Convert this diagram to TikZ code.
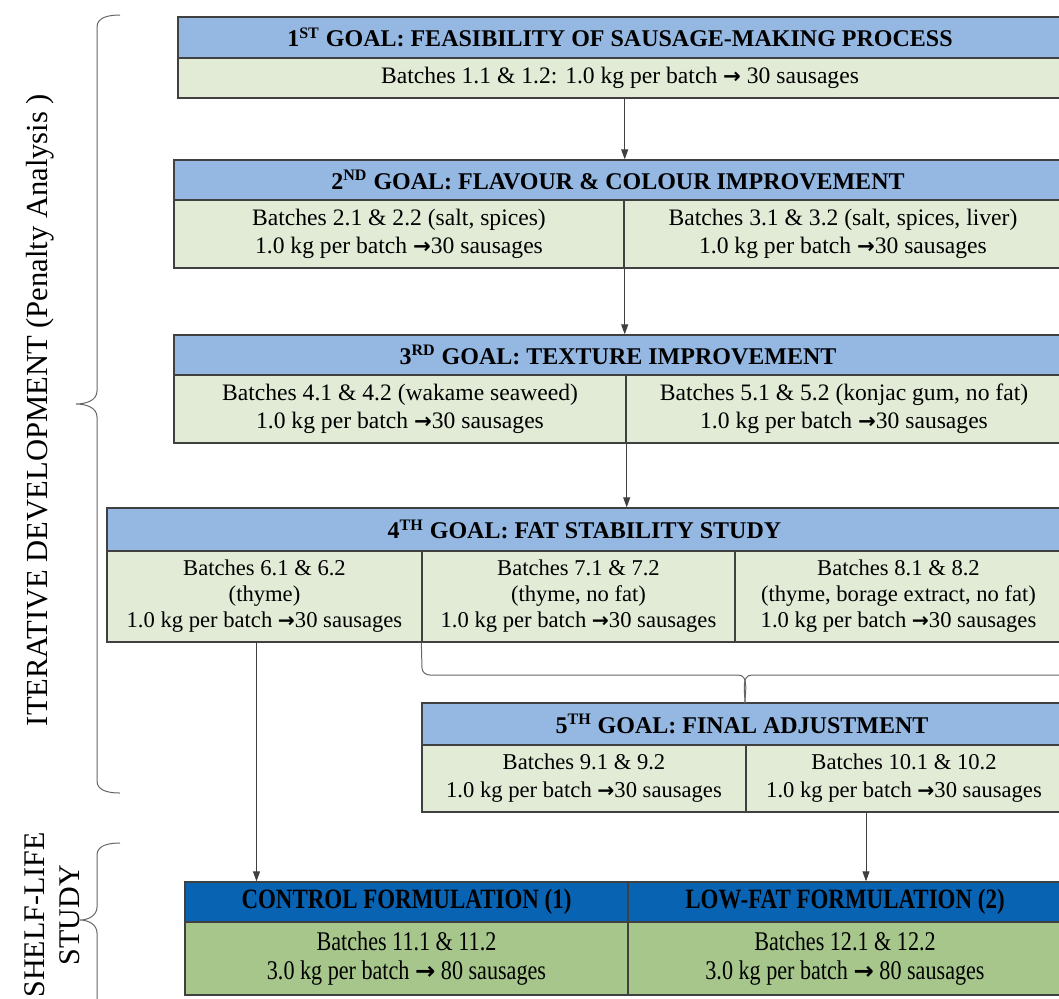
\documentclass[tikz,border=0pt]{standalone}
\usepackage{fontspec}
\setmainfont{Liberation Serif}
\newfontfamily\narrowfont{Liberation Serif}[FakeStretch=0.82]
\newfontfamily\arrfont{DejaVu Sans}
\usetikzlibrary{arrows.meta}

\definecolor{hdrblue}{HTML}{95B8E3}
\definecolor{bodygreen}{HTML}{E2EBD6}
\definecolor{darkhdr}{HTML}{0863B3}
\definecolor{darkgreen}{HTML}{A6C68B}
\definecolor{linecol}{HTML}{404040}

\newcommand{\toarr}{{\arrfont\bfseries\scalebox{0.9}{→}}}

\tikzset{
  box/.style={draw=linecol, line width=0.7pt, inner sep=0pt, align=center},
  hdr/.style={box, fill=hdrblue, font=\fontsize{12}{14}\selectfont\bfseries},
  cell/.style={box, fill=bodygreen, font=\fontsize{11.8}{14}\selectfont},
  hdrdark/.style={box, fill=darkhdr, font=\narrowfont\fontsize{14}{15}\selectfont\bfseries},
  celldark/.style={box, fill=darkgreen, font=\narrowfont\fontsize{13.5}{14.5}\selectfont},
  arr/.style={draw=linecol, line width=0.5pt, -{Triangle[length=5pt,width=3.5pt]}},
  brc/.style={draw=linecol!80, line width=0.5pt}
}

\begin{document}
\begin{tikzpicture}[x=0.5pt, y=-0.5pt]
  \useasboundingbox (0,0) rectangle (1059,998);

  % 1st goal
  \node[hdr, minimum width=442pt, minimum height=20.5pt] (g1h) at (620,37.5) {1\textsuperscript{ST} GOAL: FEASIBILITY OF SAUSAGE-MAKING PROCESS};
  \node[cell, minimum width=442pt, minimum height=20pt] (g1b) at (620,78) {Batches 1.1 \& 1.2: 1.0 kg per batch \toarr{} 30 sausages};

  % 2nd goal
  \node[hdr, minimum width=444pt, minimum height=20pt] (g2h) at (618,180) {2\textsuperscript{ND} GOAL: FLAVOUR \& COLOUR IMPROVEMENT};
  \node[cell, minimum width=225pt, minimum height=34pt] (g2a) at (399,234) {Batches 2.1 \& 2.2 (salt, spices)\\1.0 kg per batch \toarr30 sausages};
  \node[cell, minimum width=219pt, minimum height=34pt] (g2b) at (843,234) {Batches 3.1 \& 3.2 (salt, spices, liver)\\1.0 kg per batch \toarr30 sausages};

  % 3rd goal
  \node[hdr, minimum width=444pt, minimum height=20pt] (g3h) at (618,355) {3\textsuperscript{RD} GOAL: TEXTURE IMPROVEMENT};
  \node[cell, minimum width=226pt, minimum height=34pt] (g3a) at (400,409) {Batches 4.1 \& 4.2 (wakame seaweed)\\1.0 kg per batch \toarr30 sausages};
  \node[cell, minimum width=218pt, minimum height=34pt] (g3b) at (844,409) {Batches 5.1 \& 5.2 (konjac gum, no fat)\\1.0 kg per batch \toarr30 sausages};

  % 4th goal
  \node[hdr, minimum width=477.5pt, minimum height=21.5pt] (g4h) at (584.5,529.5) {4\textsuperscript{TH} GOAL: FAT STABILITY STUDY};
  \node[cell, minimum width=157.5pt, minimum height=45.5pt, font=\fontsize{11.3}{13}\selectfont] (g4a) at (264.5,596.5) {Batches 6.1 \& 6.2\\(thyme)\\1.0 kg per batch \toarr30 sausages};
  \node[cell, minimum width=156.5pt, minimum height=45.5pt, font=\fontsize{11.3}{13}\selectfont] (g4b) at (578.5,596.5) {Batches 7.1 \& 7.2\\(thyme, no fat)\\1.0 kg per batch \toarr30 sausages};
  \node[cell, minimum width=163.5pt, minimum height=45.5pt, font=\fontsize{11.3}{13}\selectfont] (g4c) at (898.5,596.5) {Batches 8.1 \& 8.2\\(thyme, borage extract, no fat)\\1.0 kg per batch \toarr30 sausages};

  % 5th goal
  \node[hdr, minimum width=320pt, minimum height=21pt] (g5h) at (742,724) {5\textsuperscript{TH} GOAL: FINAL ADJUSTMENT};
  \node[cell, minimum width=162pt, minimum height=33.5pt, font=\fontsize{11.3}{14}\selectfont] (g5a) at (584,778.5) {Batches 9.1 \& 9.2\\1.0 kg per batch \toarr30 sausages};
  \node[cell, minimum width=158pt, minimum height=33.5pt, font=\fontsize{11.3}{14}\selectfont] (g5b) at (904,778.5) {Batches 10.1 \& 10.2\\1.0 kg per batch \toarr30 sausages};

  % shelf-life formulations
  \node[hdrdark, minimum width=221.5pt, minimum height=20pt] (g6ha) at (406.5,902) {CONTROL FORMULATION (1)};
  \node[hdrdark, minimum width=217pt, minimum height=20pt] (g6hb) at (845,902) {LOW-FAT FORMULATION (2)};
  \node[celldark, minimum width=221.5pt, minimum height=36.5pt] (g6a) at (406.5,958.5) {Batches 11.1 \& 11.2\\3.0 kg per batch \toarr{} 80 sausages};
  \node[celldark, minimum width=217pt, minimum height=36.5pt] (g6b) at (845,958.5) {Batches 12.1 \& 12.2\\3.0 kg per batch \toarr{} 80 sausages};

  % arrows
  \draw[arr] (g1b.south -| g2a.east) -- (g2h.north -| g2a.east);
  \draw[arr] (g2a.south east) -- (g3h.north -| g2a.east);
  \draw[arr] (g3a.south east) -- (g4h.north -| g3a.east);
  \draw[arr] ([xshift=-4pt]g4a.south) -- ([xshift=-4pt]g6ha.north -| g4a.south);
  \draw[arr] ([xshift=-19pt]g5b.south) -- ([xshift=-19pt]g6hb.north -| g5b.south);

  % brace over 5th goal
  \coordinate (tip) at (745,703);
  \draw[brc] (g4b.south west) -- (422,668) to[out=-90,in=180] (430,675) -- (738,675) to[out=0,in=90] (tip);
  \draw[brc] (tip) to[out=90,in=180] (752,675) -- (1070,675);

  % left braces
  \draw[brc] (120,15) to[out=180,in=90] (97,27) -- (97,391) to[out=-90,in=0] (76,404)
    to[out=0,in=90] (97,417) -- (97,781) to[out=-90,in=180] (120,793);
  \draw[brc] (120,843) to[out=180,in=90] (97,855) -- (97,907) to[out=-90,in=0] (80,920)
    to[out=0,in=90] (97,933) -- (97,1010);

  \node[rotate=90, font=\fontsize{15.3}{17}\selectfont] (iter) at (40,410) {ITERATIVE DEVELOPMENT (Penalty Analysis )};
  \node[rotate=90, align=center, font=\fontsize{15}{17.5}\selectfont] (shelf) at (52,915) {SHELF-LIFE\\STUDY};
\end{tikzpicture}
\end{document}
